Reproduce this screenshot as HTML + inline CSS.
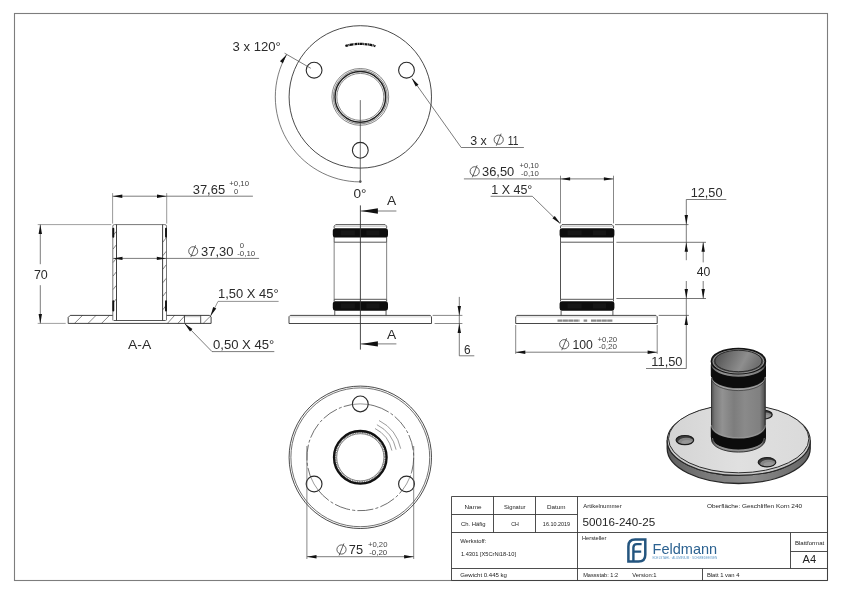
<!DOCTYPE html>
<html>
<head>
<meta charset="utf-8">
<title>50016-240-25</title>
<style>
html,body{margin:0;padding:0;background:#fff;}
body{width:842px;height:595px;overflow:hidden;font-family:"Liberation Sans",sans-serif;}
svg{display:block;position:absolute;left:0;top:0;will-change:transform;opacity:0.999;}
text{font-family:"Liberation Sans",sans-serif;fill:#222;}
.o{stroke:#2a2a2a;stroke-width:0.9;fill:none;}
.ot{stroke:#555;stroke-width:0.8;fill:none;}
.d{stroke:#444;stroke-width:0.7;fill:none;}
.g{stroke:#777;stroke-width:0.7;fill:none;}
.ah{fill:#111;stroke:none;}
.dim{font-size:12.6px;fill:#2b2b2b;}
.tol{font-size:7.1px;fill:#444;}
.tb{font-size:5.6px;fill:#333;}
</style>
</head>
<body>
<svg width="842" height="595" viewBox="0 0 842 595">
<defs>
<path id="arr" d="M0,0 L9.5,-1.7 L9.5,1.7 Z"/>
</defs>
<rect x="0" y="0" width="842" height="595" fill="#fff"/>
<!-- FRAME -->
<g id="frame">
<rect x="14.5" y="13.5" width="813" height="567" fill="none" stroke="#7d7d7d" stroke-width="1.1"/>
</g>

<!-- TITLE BLOCK -->
<g id="titleblock" stroke="#3a3a3a" stroke-width="0.9" fill="none">
<path d="M451.5,580.5 V496.5 H827.5"/>
<path d="M451.5,514.5 H577.5 M451.5,532.5 H827.5 M451.5,568.5 H827.5"/>
<path d="M493.5,496.5 V532.5 M535.5,496.5 V532.5 M577.5,496.5 V580.5"/>
<path d="M790.5,532.5 V568.5 M790.5,551.5 H827.5 M702.5,568.5 V580.5"/>
<path d="M827.5,496.5 V580.5 M451.5,580.5 H827.5"/>
</g>
<g id="tbtext" class="tb">
<text x="473" y="508.8" text-anchor="middle" textLength="17" lengthAdjust="spacingAndGlyphs">Name</text>
<text x="514.8" y="508.8" text-anchor="middle" textLength="21.5" lengthAdjust="spacingAndGlyphs">Signatur</text>
<text x="556.2" y="508.8" text-anchor="middle" textLength="18.5" lengthAdjust="spacingAndGlyphs">Datum</text>
<text x="473.2" y="526" text-anchor="middle" textLength="24.5" lengthAdjust="spacingAndGlyphs">Ch. Häfig</text>
<text x="515" y="526" text-anchor="middle" textLength="7.6" lengthAdjust="spacingAndGlyphs">CH</text>
<text x="556.5" y="526" text-anchor="middle" textLength="27.3" lengthAdjust="spacingAndGlyphs">16.10.2019</text>
<text x="583.2" y="507.8" textLength="38.5" lengthAdjust="spacingAndGlyphs">Artikelnummer</text>
<text x="582.6" y="526" style="font-size:11.7px;fill:#1e1e1e" textLength="72.6" lengthAdjust="spacingAndGlyphs">50016-240-25</text>
<text x="706.9" y="508" textLength="95.2" lengthAdjust="spacingAndGlyphs">Oberfläche:  Geschliffen Korn 240</text>
<text x="582" y="539.8" textLength="24.3" lengthAdjust="spacingAndGlyphs">Hersteller</text>
<text x="460.2" y="542.8" textLength="26.1" lengthAdjust="spacingAndGlyphs">Werkstoff:</text>
<text x="460.9" y="556.4" textLength="55.1" lengthAdjust="spacingAndGlyphs">1.4301 [X5CrNi18-10]</text>
<text x="460.2" y="576.8" textLength="46.8" lengthAdjust="spacingAndGlyphs">Gewicht 0.445 kg</text>
<text x="583.2" y="576.8" textLength="34.9" lengthAdjust="spacingAndGlyphs">Massstab: 1:2</text>
<text x="632.2" y="576.8" textLength="24.4" lengthAdjust="spacingAndGlyphs">Version:1</text>
<text x="706.9" y="576.8" textLength="32.5" lengthAdjust="spacingAndGlyphs">Blatt 1 van 4</text>
<text x="794.9" y="544.6" textLength="29.3" lengthAdjust="spacingAndGlyphs">Blattformat</text>
<text x="809.3" y="563.3" text-anchor="middle" style="font-size:10.8px;fill:#1e1e1e" textLength="13.6" lengthAdjust="spacingAndGlyphs">A4</text>
</g>
<g id="logo">
<path d="M628.4,561.6 V546.4 Q628.4,539.6 635.2,539.6 H645.3 V554.8 Q645.3,561.6 638.5,561.6 Z" fill="none" stroke="#24557f" stroke-width="2.5" stroke-linejoin="miter"/>
<path d="M633.4,561.6 V547.6 Q633.4,544.1 636.9,544.1 H641.6 M633.4,551.6 H641.2" fill="none" stroke="#24557f" stroke-width="2.4"/>
<text x="652.6" y="553.6" style="font-size:14.5px;fill:#2c6291" textLength="64.6" lengthAdjust="spacingAndGlyphs">Feldmann</text>
<text x="652.4" y="558.6" style="font-size:2.6px;fill:#5d97c6" textLength="64.8" lengthAdjust="spacingAndGlyphs">EDELSTAHL · ALUMINIUM · SCHMIEDEEISEN</text>
</g>


<g id="viewtop">
<circle cx="360.3" cy="96.9" r="71.2" class="o" style="stroke-width:0.85"/>
<circle cx="360.3" cy="96.9" r="28.4" class="ot" style="stroke-width:0.7"/>
<circle cx="360.3" cy="96.9" r="26.9" class="ot" style="stroke-width:0.7"/>
<circle cx="360.3" cy="96.9" r="25.3" class="o" style="stroke-width:1.5;stroke:#222"/>
<circle cx="360.3" cy="96.9" r="23.5" class="ot" style="stroke-width:0.7"/>
<circle cx="360.3" cy="150.3" r="7.9" class="o" style="stroke-width:1.1"/>
<circle cx="314.1" cy="70.2" r="7.9" class="o" style="stroke-width:1.1"/>
<circle cx="406.5" cy="70.2" r="7.9" class="o" style="stroke-width:1.1"/>
<path d="M345.4,46.0 A53.0,53.0 0 0 1 375.4,46.1" fill="none" stroke="#111" stroke-width="2.3" stroke-dasharray="2.6 0.5 1.2 0.4 3.1 0.5 0.9 0.5"/>
<path d="M360.3,181.9 A85,85 0 0 1 286.7,54.4" class="d"/>
<use href="#arr" transform="translate(286.7,54.4) rotate(124.0)" class="ah"/>
<path d="M310.8,68.3 L284.6,53.2" class="d"/>
<path d="M360.3,100.10000000000001 V181.9" class="d" style="stroke:#333"/>
<circle cx="360.3" cy="181.6" r="1.3" fill="#555"/>
<text x="232.6" y="50.9" class="dim" textLength="48.2" lengthAdjust="spacingAndGlyphs">3 x 120°</text>
<text x="353.5" y="197.7" class="dim" textLength="13" lengthAdjust="spacingAndGlyphs">0°</text>
<path d="M412.3,78.8 L461.2,147.5 H523.9" class="d"/>
<use href="#arr" transform="translate(411.6,77.9) rotate(54.5)" class="ah"/>
<text x="470.2" y="144.7" class="dim" textLength="16.6" lengthAdjust="spacingAndGlyphs">3 x</text>
<g transform="translate(498.7,139.7)"><circle r="4.6" class="d" style="stroke:#3a3a3a;stroke-width:0.8"/><path d="M-2.4,6.0 L2.4,-6.0" class="d" style="stroke:#3a3a3a;stroke-width:0.8"/></g>
<text x="507.8" y="144.7" class="dim" textLength="10.6" lengthAdjust="spacingAndGlyphs">11</text>
</g>
<g id="viewsection">
<defs><clipPath id="csec"><path d="M68.2,315.4 H112.8 V224.6 H116.5 V320.5 H162.6 V224.6 H166.5 V315.4 H184.5 V323.4 H112.8 V323.4 H68.2 V323.4 H68.2 Z"/></clipPath>
<clipPath id="csec2"><rect x="200.7" y="315.4" width="10.400000000000006" height="8.0"/></clipPath></defs>
<path d="M74.5,323.4 L82.5,315.4 M88.0,323.4 L96.0,315.4 M101.5,323.4 L109.5,315.4 M167.4,323.4 L174.6,315.4 M177.9,323.4 L185.1,315.4 M203.2,323.4 L210.6,316.0 M113.1,235.5 L116.2,231.5 M162.9,242.2 L166.2,237.8 M113.1,249.0 L116.2,245.0 M162.9,255.7 L166.2,251.3 M113.1,262.5 L116.2,258.5 M162.9,269.2 L166.2,264.8 M113.1,276.0 L116.2,272.0 M162.9,282.7 L166.2,278.3 M113.1,289.5 L116.2,285.5 M162.9,296.2 L166.2,291.8 M113.1,303.0 L116.2,299.0 M162.9,309.7 L166.2,305.3" class="g" style="stroke:#444;stroke-width:0.65"/>
<path d="M68.2,323.4 V317.4 L70.2,315.4 H112.8 M166.5,315.4 H209.5 L211.1,317.0 V323.4 M68.2,323.4 H211.1" class="o"/>
<path d="M113.6,320.5 H165.7" class="o" style="stroke-width:0.8"/>
<path d="M184.5,315.4 V322.4 M200.7,315.4 V323.4 M184.5,322.5 L185.4,323.2" class="o" style="stroke-width:0.8"/>
<path d="M185.0,316.7 H200.2" class="g" style="stroke:#999;stroke-width:0.6"/>
<path d="M112.8,320.4 V226.2 Q112.8,224.6 114.39999999999999,224.6 H164.9 Q166.5,224.6 166.5,226.2 V320.4" class="o" style="stroke:#555;stroke-width:0.8"/>
<path d="M116.5,224.6 V320.5 M162.6,224.6 V320.5" class="o"/>
<path d="M113.3,228.6 V236.8 M166.0,228.6 V236.8" stroke="#111" stroke-width="1.9" fill="none" stroke-linecap="round"/>
<path d="M113.3,301.2 V310.6 M166.0,301.2 V310.6" stroke="#111" stroke-width="1.9" fill="none" stroke-linecap="round"/>
<path d="M112.6,193.1 V223.6 M166.7,193.1 V223.6" class="g" style="stroke:#6e6e6e"/>
<path d="M112.6,196.2 H252.9" class="d"/>
<use href="#arr" transform="translate(112.8,196.2) rotate(0.0)" class="ah"/>
<use href="#arr" transform="translate(166.5,196.2) rotate(180.0)" class="ah"/>
<text x="192.7" y="193.6" class="dim" textLength="32.4" lengthAdjust="spacingAndGlyphs">37,65</text>
<text x="229.3" y="186.0" class="tol" textLength="19.7" lengthAdjust="spacingAndGlyphs">+0,10</text>
<text x="233.9" y="193.5" class="tol" textLength="4.2" lengthAdjust="spacingAndGlyphs">0</text>
<path d="M113.2,258.4 H259.1" class="d"/>
<use href="#arr" transform="translate(113.0,258.4) rotate(0.0)" class="ah"/>
<use href="#arr" transform="translate(166.3,258.4) rotate(180.0)" class="ah"/>
<g transform="translate(193.2,251.2)"><circle r="4.5" class="d" style="stroke:#3a3a3a;stroke-width:0.8"/><path d="M-2.4,5.9 L2.4,-5.9" class="d" style="stroke:#3a3a3a;stroke-width:0.8"/></g>
<text x="201.1" y="255.8" class="dim" textLength="32.4" lengthAdjust="spacingAndGlyphs">37,30</text>
<text x="239.7" y="248.2" class="tol" textLength="4.3" lengthAdjust="spacingAndGlyphs">0</text>
<text x="237.2" y="255.7" class="tol" textLength="18" lengthAdjust="spacingAndGlyphs">-0,10</text>
<path d="M37.7,224.6 H111.3 M37.7,323.4 H65.7" class="g"/>
<path d="M40.3,224.6 V264.2 M40.3,285.2 V323.4" class="d"/>
<use href="#arr" transform="translate(40.3,224.6) rotate(90.0)" class="ah"/>
<use href="#arr" transform="translate(40.3,323.4) rotate(-90.0)" class="ah"/>
<text x="33.9" y="278.6" class="dim" textLength="13.9" lengthAdjust="spacingAndGlyphs">70</text>
<text x="128" y="348.7" class="dim" textLength="23.2" lengthAdjust="spacingAndGlyphs">A-A</text>
<path d="M210.6,316.0 L218,301.4 H278.6" class="g" style="stroke:#666"/>
<use href="#arr" transform="translate(210.4,316.3) rotate(-63.0)" class="ah"/>
<text x="218" y="298.2" class="dim" textLength="60.6" lengthAdjust="spacingAndGlyphs">1,50 X 45°</text>
<path d="M184.9,323.8 L212,351.6 H274.3" class="d"/>
<use href="#arr" transform="translate(184.6,323.5) rotate(45.7)" class="ah"/>
<text x="213" y="348.8" class="dim" textLength="61.3" lengthAdjust="spacingAndGlyphs">0,50 X 45°</text>
</g>
<g id="viewfront">
<path d="M334.15,242.2 V299.3 M386.65,242.2 V299.3" class="ot" style="stroke:#6a6a6a;stroke-width:0.85"/>
<path d="M334.15,228.4 V226.1 L335.65,224.6 H385.15 L386.65,226.1 V228.4" class="o" style="stroke:#444"/>
<path d="M334.15,226.2 H386.65" class="g" style="stroke:#999;stroke-width:0.6"/>
<path d="M334.15,237 V242.2 H386.65 V237" class="o" style="stroke:#444"/>
<path d="M334.15,301.5 V299.3 H386.65 V301.5" class="o" style="stroke:#444"/>
<path d="M334.75,310.5 V315.4 M386.04999999999995,310.5 V315.4" class="o" style="stroke:#444"/>
<rect x="332.79999999999995" y="228.2" width="55.2" height="9.300000000000011" rx="2.2" ry="2.6" fill="#0d0d0d"/>
<rect x="340.79999999999995" y="230.39999999999998" width="14" height="4.900000000000011" fill="#2b2b2b" opacity="0.32"/>
<rect x="366.4" y="230.39999999999998" width="13" height="4.900000000000011" fill="#2b2b2b" opacity="0.32"/>
<rect x="332.79999999999995" y="301.2" width="55.2" height="9.5" rx="2.2" ry="2.6" fill="#0d0d0d"/>
<rect x="340.79999999999995" y="303.4" width="14" height="5.1" fill="#2b2b2b" opacity="0.32"/>
<rect x="366.4" y="303.4" width="13" height="5.1" fill="#2b2b2b" opacity="0.32"/>
<path d="M289.0,323.5 V316.7 L290.3,315.4 H430.2 L431.5,316.7 V323.5 Z" class="o" style="stroke:#333"/>
<path d="M289.0,316.9 H431.5" class="g" style="stroke:#aaa;stroke-width:0.5"/>
<path d="M360.4,205.4 V349.6" class="o" style="stroke:#333;stroke-width:0.9"/>
<path d="M360.4,211.0 H396.4" class="d"/>
<path d="M360.79999999999995,211.0 L377.9,208.3 V213.7 Z" class="ah"/>
<text x="387.0" y="204.8" class="dim" textLength="9.2" lengthAdjust="spacingAndGlyphs">A</text>
<path d="M360.4,343.9 H396.4" class="d"/>
<path d="M360.79999999999995,343.9 L377.9,341.2 V346.59999999999997 Z" class="ah"/>
<text x="387.0" y="338.5" class="dim" textLength="9.2" lengthAdjust="spacingAndGlyphs">A</text>
<path d="M432.6,315.4 H462.4 M434.6,323.5 H462.4" class="g" style="stroke:#555"/>
<path d="M459.3,296.9 V355.8 H474.3" class="d"/>
<use href="#arr" transform="translate(459.3,315.4) rotate(-90.0)" class="ah"/>
<use href="#arr" transform="translate(459.3,323.5) rotate(90.0)" class="ah"/>
<text x="464" y="354" class="dim" textLength="6.6" lengthAdjust="spacingAndGlyphs">6</text>
</g>
<g id="viewright">
<path d="M560.5,242.2 V299.3 M613.5,242.2 V299.3" class="ot" style="stroke:#333;stroke-width:0.85"/>
<path d="M560.5,228.4 V226.1 L562.0,224.6 H612.0 L613.5,226.1 V228.4" class="o" style="stroke:#444"/>
<path d="M560.5,226.2 H613.5" class="g" style="stroke:#999;stroke-width:0.6"/>
<path d="M560.5,237 V242.2 H613.5 V237" class="o" style="stroke:#444"/>
<path d="M560.5,301.5 V299.3 H613.5 V301.5" class="o" style="stroke:#444"/>
<path d="M561.1,310.5 V315.4 M612.9,310.5 V315.4" class="o" style="stroke:#444"/>
<rect x="559.6" y="228.2" width="54.8" height="9.300000000000011" rx="2.2" ry="2.6" fill="#0d0d0d"/>
<rect x="567.6" y="230.39999999999998" width="14" height="4.900000000000011" fill="#2b2b2b" opacity="0.32"/>
<rect x="593.0" y="230.39999999999998" width="13" height="4.900000000000011" fill="#2b2b2b" opacity="0.32"/>
<rect x="559.6" y="301.2" width="54.8" height="9.5" rx="2.2" ry="2.6" fill="#0d0d0d"/>
<rect x="567.6" y="303.4" width="14" height="5.1" fill="#2b2b2b" opacity="0.32"/>
<rect x="593.0" y="303.4" width="13" height="5.1" fill="#2b2b2b" opacity="0.32"/>
<path d="M515.7,323.5 V316.7 L517.0,315.4 H655.9000000000001 L657.2,316.7 V323.5 Z" class="o" style="stroke:#333"/>
<path d="M515.7,316.9 H657.2" class="g" style="stroke:#aaa;stroke-width:0.5"/>
<path d="M557.5,320.6 H579.6 M583.6,320.6 H587.2 M591,320.6 H612.8" stroke="#8a8a8a" stroke-width="2.2" fill="none" stroke-dasharray="5 0.4"/>
<path d="M560.5,175.7 V223.4 M613.5,175.7 V223.4" class="g" style="stroke:#555"/>
<path d="M463.9,178.9 H613.5" class="d"/>
<use href="#arr" transform="translate(560.6,178.9) rotate(0.0)" class="ah"/>
<use href="#arr" transform="translate(613.4,178.9) rotate(180.0)" class="ah"/>
<g transform="translate(474.7,171.3)"><circle r="4.6" class="d" style="stroke:#3a3a3a;stroke-width:0.8"/><path d="M-2.4,6.0 L2.4,-6.0" class="d" style="stroke:#3a3a3a;stroke-width:0.8"/></g>
<text x="482" y="175.8" class="dim" textLength="32.2" lengthAdjust="spacingAndGlyphs">36,50</text>
<text x="519.5" y="168.0" class="tol" textLength="19.3" lengthAdjust="spacingAndGlyphs">+0,10</text>
<text x="521.0" y="176.3" class="tol" textLength="17.8" lengthAdjust="spacingAndGlyphs">-0,10</text>
<path d="M490.6,196.3 H532.3 L559.9,223.3" class="d"/>
<use href="#arr" transform="translate(560.4,223.8) rotate(-135.6)" class="ah"/>
<text x="491.3" y="193.9" class="dim" textLength="41" lengthAdjust="spacingAndGlyphs">1 X 45°</text>
<path d="M615.0,224.6 H688.5 M616.4,242.3 H706 M616.4,298.5 H706 M658.7,315.4 H688.9" class="d" style="stroke:#3a3a3a"/>
<path d="M726.3,199.5 H686.3 V260.2" class="d"/>
<use href="#arr" transform="translate(686.3,224.6) rotate(-90.0)" class="ah"/>
<use href="#arr" transform="translate(686.3,242.3) rotate(90.0)" class="ah"/>
<text x="690.7" y="196.9" class="dim" textLength="31.8" lengthAdjust="spacingAndGlyphs">12,50</text>
<path d="M686.3,281 V368.5 H646" class="d"/>
<use href="#arr" transform="translate(686.3,298.5) rotate(-90.0)" class="ah"/>
<use href="#arr" transform="translate(686.3,315.4) rotate(90.0)" class="ah"/>
<text x="651.3" y="365.8" class="dim" textLength="31.2" lengthAdjust="spacingAndGlyphs">11,50</text>
<path d="M703.2,242.3 V262.4 M703.2,281 V298.5" class="d"/>
<use href="#arr" transform="translate(703.2,242.3) rotate(90.0)" class="ah"/>
<use href="#arr" transform="translate(703.2,298.5) rotate(-90.0)" class="ah"/>
<text x="696.8" y="276" class="dim" textLength="13.6" lengthAdjust="spacingAndGlyphs">40</text>
<path d="M515.7,325 V353.9 M657.2,325 V353.9" class="g" style="stroke:#555"/>
<path d="M515.7,352.2 H657.2" class="d"/>
<use href="#arr" transform="translate(515.8,352.2) rotate(0.0)" class="ah"/>
<use href="#arr" transform="translate(657.1,352.2) rotate(180.0)" class="ah"/>
<g transform="translate(564.2,344.2)"><circle r="4.6" class="d" style="stroke:#3a3a3a;stroke-width:0.8"/><path d="M-2.4,6.0 L2.4,-6.0" class="d" style="stroke:#3a3a3a;stroke-width:0.8"/></g>
<text x="572.4" y="348.8" class="dim" textLength="20.4" lengthAdjust="spacingAndGlyphs">100</text>
<text x="597.4" y="342.0" class="tol" textLength="19.7" lengthAdjust="spacingAndGlyphs">+0,20</text>
<text x="598.6" y="349.3" class="tol" textLength="18.4" lengthAdjust="spacingAndGlyphs">-0,20</text>
</g>
<g id="viewbottom">
<circle cx="360.3" cy="457.3" r="71.2" class="o" style="stroke-width:0.85"/>
<circle cx="360.3" cy="457.3" r="69.4" class="o" style="stroke-width:0.75;stroke:#444"/>
<circle cx="360.3" cy="457.3" r="53.4" class="d" style="stroke:#444;stroke-width:0.7" stroke-dasharray="16 2.2 3 2.2" transform="rotate(-75 360.3 457.3)"/>
<circle cx="360.3" cy="457.3" r="25.0" fill="none" stroke="#808080" stroke-width="2.4" stroke-dasharray="1 0.8"/>
<circle cx="360.3" cy="457.3" r="26.3" fill="none" stroke="#111" stroke-width="2.3"/>
<circle cx="360.3" cy="457.3" r="23.6" class="ot" style="stroke:#555;stroke-width:0.7"/>
<circle cx="360.3" cy="403.9" r="7.9" fill="#fff" stroke="#2a2a2a" stroke-width="1.15"/>
<circle cx="406.5" cy="484.0" r="7.9" fill="#fff" stroke="#2a2a2a" stroke-width="1.15"/>
<circle cx="314.1" cy="484.0" r="7.9" fill="#fff" stroke="#2a2a2a" stroke-width="1.15"/>
<path d="M352.7,404.4 A53.4,53.4 0 0 1 367.9,404.4" class="d" style="stroke:#555;stroke-width:0.6"/>
<path d="M409.9,477.1 A53.4,53.4 0 0 1 402.3,490.3" class="d" style="stroke:#555;stroke-width:0.6"/>
<path d="M318.3,490.3 A53.4,53.4 0 0 1 310.7,477.1" class="d" style="stroke:#555;stroke-width:0.6"/>
<path d="M379.0,420.5 A41.3,41.3 0 0 1 400.7,448.7" class="g" style="stroke:#666;stroke-width:0.65"/>
<path d="M376.9,424.7 A36.6,36.6 0 0 1 396.1,449.7" class="g" style="stroke:#666;stroke-width:0.65"/>
<path d="M375.0,428.5 A32.3,32.3 0 0 1 391.9,450.6" class="g" style="stroke:#666;stroke-width:0.65"/>
<path d="M306.9,446 V559 M413.7,446 V559" class="g" style="stroke:#555"/>
<path d="M306.9,556.7 H413.7" class="d"/>
<use href="#arr" transform="translate(307.0,556.7) rotate(0.0)" class="ah"/>
<use href="#arr" transform="translate(413.6,556.7) rotate(180.0)" class="ah"/>
<g transform="translate(341.5,549.5)"><circle r="4.6" class="d" style="stroke:#3a3a3a;stroke-width:0.8"/><path d="M-2.4,6.0 L2.4,-6.0" class="d" style="stroke:#3a3a3a;stroke-width:0.8"/></g>
<text x="348.8" y="554.1" class="dim" textLength="14.2" lengthAdjust="spacingAndGlyphs">75</text>
<text x="368.0" y="547.4" class="tol" textLength="19.4" lengthAdjust="spacingAndGlyphs">+0,20</text>
<text x="369.2" y="554.7" class="tol" textLength="18.0" lengthAdjust="spacingAndGlyphs">-0,20</text>
</g>
<g id="viewiso">
<defs>
<linearGradient id="gtube" x1="0" y1="0" x2="1" y2="0">
<stop offset="0" stop-color="#4e4e4e"/><stop offset="0.06" stop-color="#767676"/><stop offset="0.2" stop-color="#929292"/>
<stop offset="0.42" stop-color="#7d7d7d"/><stop offset="0.62" stop-color="#8a8a8a"/><stop offset="0.9" stop-color="#808080"/><stop offset="0.97" stop-color="#5a5a5a"/><stop offset="1" stop-color="#3a3a3a"/>
</linearGradient>
<linearGradient id="ginner" x1="0" y1="0" x2="1" y2="0.25">
<stop offset="0" stop-color="#4a4a4a"/><stop offset="0.35" stop-color="#6e6e6e"/><stop offset="0.7" stop-color="#8e8e8e"/><stop offset="1" stop-color="#707070"/>
</linearGradient>
<linearGradient id="gside" x1="0" y1="0" x2="1" y2="0">
<stop offset="0" stop-color="#5e5e5e"/><stop offset="0.3" stop-color="#7c7c7c"/><stop offset="0.6" stop-color="#8c8c8c"/><stop offset="1" stop-color="#646464"/>
</linearGradient>
<linearGradient id="gtop" x1="0" y1="0" x2="1" y2="0">
<stop offset="0" stop-color="#d4d4d4"/><stop offset="0.5" stop-color="#e0e0e0"/><stop offset="1" stop-color="#dadada"/>
</linearGradient>
</defs>
<path d="M667.2,440.3 A71.5,35.0 0 0 0 810.2,440.3 V448.5 A71.5,35.0 0 0 1 667.2,448.5 Z" fill="url(#gside)" stroke="#262626" stroke-width="1.3"/>
<ellipse cx="738.7" cy="440.4" rx="71.5" ry="35.0" fill="#c9c9c9" stroke="#262626" stroke-width="1.1"/>
<ellipse cx="738.7" cy="438.7" rx="70.2" ry="34.1" fill="url(#gtop)" stroke="#2c2c2c" stroke-width="1.0"/>
<clipPath id="hc1"><ellipse cx="763.4" cy="414.7" rx="8.8" ry="4.3"/></clipPath><ellipse cx="763.4" cy="414.7" rx="8.8" ry="4.3" fill="#3c3c3c"/><g clip-path="url(#hc1)"><ellipse cx="764.6999999999999" cy="416.59999999999997" rx="8.200000000000001" ry="4.0" fill="#868686"/><ellipse cx="765.6" cy="417.3" rx="5.800000000000001" ry="2.5" fill="#979797"/></g><ellipse cx="763.4" cy="414.7" rx="8.8" ry="4.3" fill="none" stroke="#1c1c1c" stroke-width="1.2"/>
<clipPath id="hc2"><ellipse cx="684.9" cy="440.1" rx="8.8" ry="4.6"/></clipPath><ellipse cx="684.9" cy="440.1" rx="8.8" ry="4.6" fill="#3c3c3c"/><g clip-path="url(#hc2)"><ellipse cx="686.1999999999999" cy="442.0" rx="8.200000000000001" ry="4.3" fill="#868686"/><ellipse cx="687.1" cy="442.70000000000005" rx="5.800000000000001" ry="2.8" fill="#979797"/></g><ellipse cx="684.9" cy="440.1" rx="8.8" ry="4.6" fill="none" stroke="#1c1c1c" stroke-width="1.2"/>
<clipPath id="hc3"><ellipse cx="767.0" cy="462.2" rx="8.8" ry="4.6"/></clipPath><ellipse cx="767.0" cy="462.2" rx="8.8" ry="4.6" fill="#3c3c3c"/><g clip-path="url(#hc3)"><ellipse cx="768.3" cy="464.09999999999997" rx="8.200000000000001" ry="4.3" fill="#868686"/><ellipse cx="769.2" cy="464.8" rx="5.800000000000001" ry="2.8" fill="#979797"/></g><ellipse cx="767.0" cy="462.2" rx="8.8" ry="4.6" fill="none" stroke="#1c1c1c" stroke-width="1.2"/>
<path d="M711.5,361.2 V439.6 A26.9,12.5 0 0 0 765.3,439.6 V361.2 Z" fill="url(#gtube)" stroke="#2a2a2a" stroke-width="0.9"/>
<path d="M710.8,425.9 A27.599999999999998,12.7 0 0 0 766.0,425.9 V436.8 A27.599999999999998,12.7 0 0 1 710.8,436.8 Z" fill="#0c0c0c" />
<path d="M711.5,425.2 A26.9,12.5 0 0 0 765.3,425.2" fill="none" stroke="#9e9e9e" stroke-width="0.7"/>
<path d="M712.5,438.0 A25.9,12.5 0 0 0 764.3,438.0" fill="none" stroke="#9a9a9a" stroke-width="0.7"/>
<path d="M710.8,364.0 A27.599999999999998,12.7 0 0 0 766.0,364.0 V375.4 A27.599999999999998,12.7 0 0 1 710.8,375.4 Z" fill="#0c0c0c" />
<path d="M711.5,377.0 A26.9,12.5 0 0 0 765.3,377.0" fill="none" stroke="#a8a8a8" stroke-width="0.9"/>
<path d="M711.5,378.1 A26.9,12.5 0 0 0 765.3,378.1" fill="none" stroke="#3a3a3a" stroke-width="0.7"/>
<ellipse cx="738.4" cy="361.2" rx="27.0" ry="12.6" fill="#4a4a4a" stroke="#141414" stroke-width="1.6"/>
<ellipse cx="738.4" cy="361.5" rx="25.299999999999997" ry="11.6" fill="none" stroke="#b8b8b8" stroke-width="0.7"/>
<ellipse cx="738.4" cy="361.0" rx="23.5" ry="10.7" fill="url(#ginner)" stroke="#262626" stroke-width="0.9"/>
</g>
</svg>
</body>
</html>
